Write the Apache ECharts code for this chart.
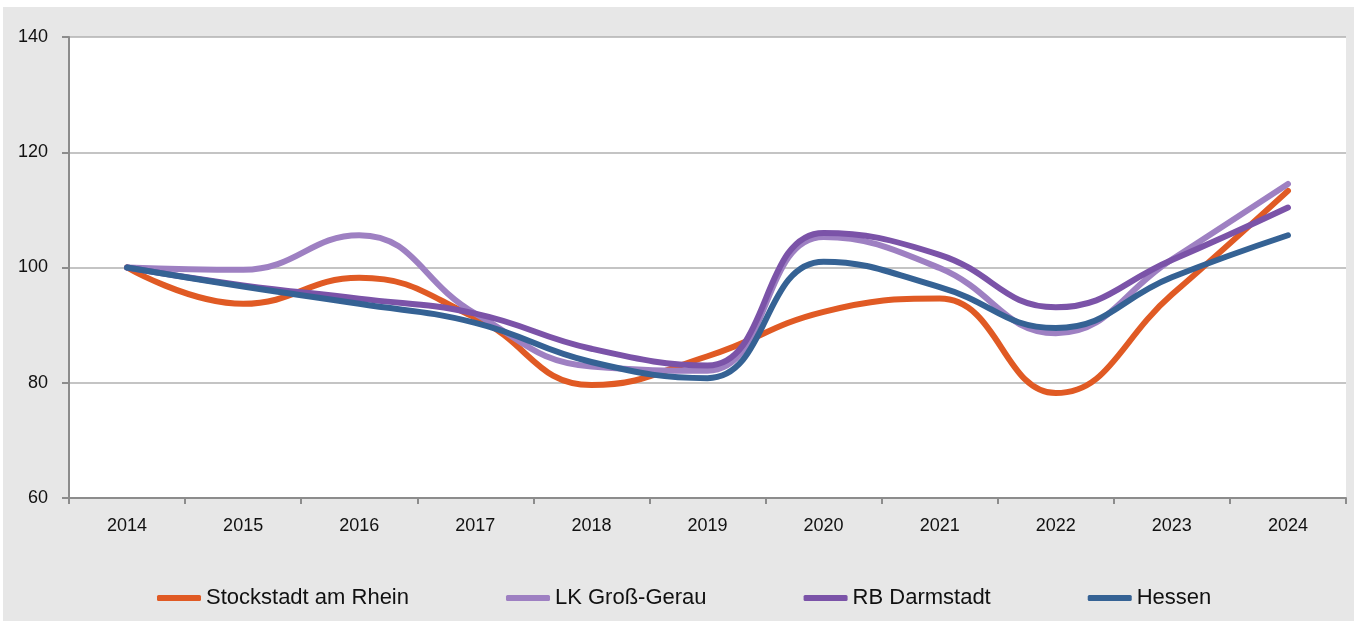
<!DOCTYPE html>
<html lang="de">
  <head>
    <meta charset="UTF-8" />
    <title>Index</title>
    <script src="https://cdn.jsdelivr.net/npm/echarts@6/dist/echarts.min.js"></script>
    <style>
      * {
        padding: 0;
        margin: 0;
      }
      body {
        background-color: #ffffff;
      }
      #main {
        position: absolute;
        left: 3px;
        top: 7px;
        width: 1351px;
        height: 614px;
      }
    </style>
  </head>
  <body>
    <div id="main"></div>
    <script>
      var years = ["2014", "2015", "2016", "2017", "2018", "2019", "2020", "2021", "2022", "2023", "2024"];
      var stockstadt = [100, 93.7, 98.2, 91.3, 79.6, 84.6, 92.3, 94.6, 78.2, 95.3, 113.3];
      var grossGerau = [100, 99.6, 105.6, 92.0, 82.8, 82.1, 105.3, 99.9, 88.6, 101.4, 114.5];
      var darmstadt = [100, 96.9, 94.6, 92.0, 85.9, 83.0, 106.0, 102.2, 93.1, 101.3, 110.4];
      var hessen = [100, 96.7, 93.7, 90.4, 83.6, 80.8, 101.0, 96.6, 89.5, 98.3, 105.6];
      var names = ["Stockstadt am Rhein", "LK Groß-Gerau", "RB Darmstadt", "Hessen"];
      var colors = ["#e05a24", "#9e80c2", "#7b53a8", "#356294"];

      var myChart = echarts.init(document.getElementById("main"));
      var fontFamily = "'Liberation Sans', Arial, sans-serif";
      var axisColor = "#8c8c8c";

      function makeSeries(i, data) {
        return {
          name: names[i],
          type: "line",
          smooth: 0.45,
          symbol: "none",
          data: data,
          lineStyle: {
            color: colors[i],
            width: 6,
            cap: "round",
          },
          itemStyle: {
            color: colors[i],
          },
        };
      }

      var option = {
        backgroundColor: "#e7e7e7",
        textStyle: {
          fontFamily: fontFamily,
        },
        grid: {
          left: 66,
          right: 8,
          top: 30,
          bottom: 123,
          show: true,
          backgroundColor: "#ffffff",
          borderWidth: 0,
        },
        legend: {
          left: 149,
          bottom: 7,
          itemGap: 97,
          itemWidth: 44,
          itemHeight: 6,
          icon: "roundRect",
          textStyle: {
            fontFamily: fontFamily,
            fontSize: 22,
            color: "#111111",
          },
          data: names,
        },
        xAxis: {
          type: "category",
          boundaryGap: true,
          data: years,
          axisLine: {
            lineStyle: { color: axisColor, width: 2 },
          },
          axisTick: {
            show: true,
            length: 6,
            lineStyle: { color: axisColor, width: 2 },
          },
          axisLabel: {
            color: "#111111",
            fontSize: 18,
            fontFamily: fontFamily,
            margin: 19,
          },
        },
        yAxis: {
          type: "value",
          min: 60,
          max: 140,
          interval: 20,
          axisLine: {
            show: true,
            lineStyle: { color: axisColor, width: 2 },
          },
          axisTick: {
            show: true,
            length: 7,
            lineStyle: { color: axisColor, width: 2 },
          },
          axisLabel: {
            color: "#111111",
            fontSize: 18,
            fontFamily: fontFamily,
            margin: 21,
          },
          splitLine: {
            show: true,
            lineStyle: { color: "#b0b0b0", width: 1.5 },
          },
        },
        series: [
          makeSeries(0, stockstadt),
          makeSeries(1, grossGerau),
          makeSeries(2, darmstadt),
          makeSeries(3, hessen),
        ],
      };
      myChart.setOption(option);
    </script>
  </body>
</html>
